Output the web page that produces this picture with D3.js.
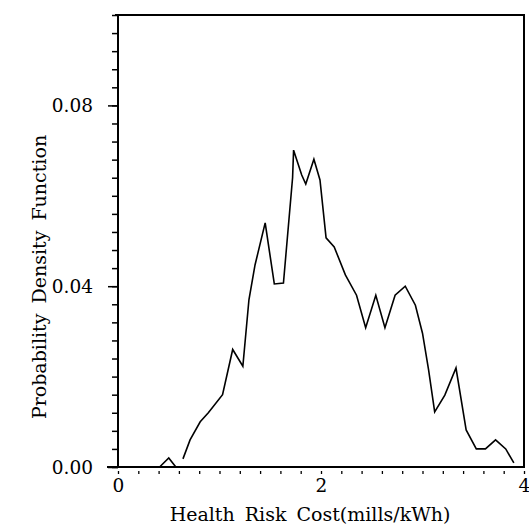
<!DOCTYPE html>
<html>
<head>
<meta charset="utf-8">
<script src="https://cdn.jsdelivr.net/npm/d3@7/dist/d3.min.js"></script>
<style>
body { margin: 0; background: #fff; }
text { font-family: "DejaVu Serif", serif; fill: #000; }
</style>
</head>
<body>
<script>
let width = 529;
let height = 527;

// health risk cost (mills/kWh) and density; null = break in the line
const costValues = [0.41, 0.50, 0.57, null, 0.64, 0.71, 0.81, 0.89, 1.03, 1.13, 1.23, 1.29, 1.35, 1.45, 1.54, 1.63,
	1.72, 1.73, 1.81, 1.85, 1.93, 1.99, 2.05, 2.13, 2.24, 2.35, 2.44, 2.54, 2.63, 2.73, 2.83, 2.93,
	3.00, 3.06, 3.12, 3.22, 3.33, 3.43, 3.53, 3.62, 3.72, 3.82, 3.90];
const densityValues = [0, 0.002, 0, null, 0.0018, 0.006, 0.010, 0.012, 0.016, 0.026, 0.0223, 0.037, 0.0447, 0.054, 0.0405, 0.0407,
	0.064, 0.0701, 0.0646, 0.0626, 0.0681, 0.0635, 0.0507, 0.0487, 0.0425, 0.038, 0.0308, 0.038, 0.0308, 0.038, 0.040, 0.0358,
	0.0296, 0.0215, 0.0122, 0.0159, 0.0219, 0.0082, 0.004, 0.004, 0.006, 0.004, 0.0009];

const xTickLabels = [0, 2, 4];
const yTickLabels = [0, 0.04, 0.08];

let x = d3.scaleLinear().domain([0, 4]).range([118, 524]);
let y = d3.scaleLinear().domain([0, 0.1]).range([467, 15]);

let svg = d3.select('body').append('svg')
	.attr('width', width)
	.attr('height', height);

let points = costValues.map((c, i) => ({ c: c, d: densityValues[i] }));

// minor y ticks
svg.append('g')
	.attr('transform', 'translate(' + x(0) + ',0)')
	.call(d3.axisLeft(y).tickValues(d3.range(0, 0.1001, 0.004)).tickSize(6).tickFormat(''))
	.call(g => g.select('.domain').remove())
	.selectAll('line').attr('stroke-width', 1.5);

// major y ticks with labels
svg.append('g')
	.attr('transform', 'translate(' + x(0) + ',0)')
	.call(d3.axisLeft(y).tickValues(yTickLabels).tickSize(10).tickPadding(15).tickFormat(d3.format('.2f')))
	.call(g => g.select('.domain').remove())
	.call(g => g.selectAll('line').attr('stroke-width', 1.5))
	.call(g => g.selectAll('text').style('font-size', '18.5px').attr('dy', '0.35em'));

// x ticks, small marks a bit below the axis
svg.append('g')
	.attr('transform', 'translate(0,' + y(0) + ')')
	.call(d3.axisBottom(x).tickValues(d3.range(0, 4.001, 0.2)).tickSize(7).tickFormat(''))
	.call(g => g.select('.domain').remove())
	.call(g => g.selectAll('line').attr('y1', 4).attr('stroke-width', 1.3));

svg.append('g')
	.attr('transform', 'translate(0,' + y(0) + ')')
	.call(d3.axisBottom(x).tickValues(xTickLabels).tickSize(0).tickPadding(12).tickFormat(d3.format('d')))
	.call(g => g.select('.domain').remove())
	.call(g => g.selectAll('text').style('font-size', '18.5px'));

// frame
let frame = d3.path();
frame.moveTo(x.range()[0] - 11, y(0));
frame.lineTo(x.range()[1], y(0));
frame.lineTo(x.range()[1], y.range()[1]);
frame.lineTo(x.range()[0] - 3, y.range()[1]);
frame.moveTo(x.range()[0], y.range()[1]);
frame.lineTo(x.range()[0], y(0));
svg.append('path')
	.attr('d', frame.toString())
	.style('fill', 'none')
	.style('stroke', '#000')
	.style('stroke-width', 2);

let line = d3.line()
	.defined(p => p.c !== null)
	.x(p => x(p.c))
	.y(p => y(p.d));

svg.append('path')
	.datum(points)
	.attr('d', line)
	.style('fill', 'none')
	.style('stroke', '#000')
	.style('stroke-width', 1.6)
	.style('stroke-linejoin', 'miter');

svg.append('text')
	.attr('x', 310)
	.attr('y', 521)
	.attr('text-anchor', 'middle')
	.style('font-size', '19px')
	.style('word-spacing', '4px')
	.text('Health Risk Cost(mills/kWh)');

svg.append('text')
	.attr('transform', 'translate(46,277) rotate(-90)')
	.attr('text-anchor', 'middle')
	.style('font-size', '19px')
	.style('word-spacing', '4px')
	.text('Probability Density Function');
</script>
</body>
</html>
